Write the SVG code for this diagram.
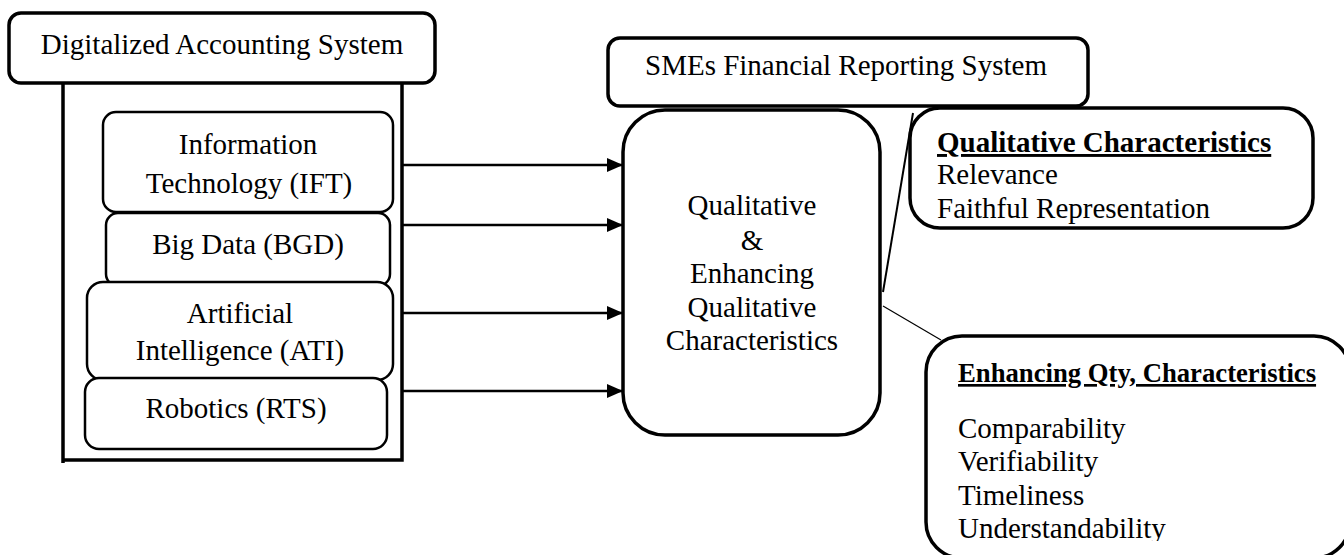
<svg xmlns="http://www.w3.org/2000/svg" width="1344" height="555" viewBox="0 0 1344 555">
<style>
text{font-family:"Liberation Serif","Times New Roman",serif;font-size:29px;fill:#000}
.c{text-anchor:middle}
.b{font-weight:bold;text-decoration:underline}
.box{fill:#fff;stroke:#000;stroke-width:3.5}
.ibox{fill:#fff;stroke:#000;stroke-width:2.5}
.arr{stroke:#000;stroke-width:2.5;fill:none;marker-end:url(#ah)}
</style>
<defs>
<marker id="ah" viewBox="0 0 16 14" refX="16" refY="7" markerWidth="16" markerHeight="14" markerUnits="userSpaceOnUse" orient="auto">
<path d="M0,0 L16,7 L0,14 Z" fill="#000"/>
</marker>
<clipPath id="clipE"><rect x="900" y="330" width="444" height="211"/></clipPath>
</defs>
<rect width="1344" height="555" fill="#fff"/>
<g id="container">
<path d="M63,83 V463 M63,460 H402 V83" fill="none" stroke="#000" stroke-width="3.5"/>
</g>
<g id="das">
<rect class="box" x="9" y="13" width="426" height="70" rx="12"/>
<text class="c" x="222" y="54">Digitalized Accounting System</text>
</g>
<g id="ift">
<rect class="ibox" x="103" y="112" width="290" height="100" rx="13"/>
<text class="c" x="248" y="154">Information</text>
<text class="c" x="249" y="193">Technology (IFT)</text>
</g>
<g id="bgd">
<rect class="ibox" x="106" y="213" width="284" height="73" rx="12"/>
<text class="c" x="248" y="254">Big Data (BGD)</text>
</g>
<g id="ati">
<rect class="ibox" x="87" y="282" width="306" height="98" rx="16"/>
<text class="c" x="240" y="323">Artificial</text>
<text class="c" x="240" y="360">Intelligence (ATI)</text>
</g>
<g id="rts">
<rect class="ibox" x="85" y="378" width="302" height="71" rx="14"/>
<text class="c" x="236" y="418">Robotics (RTS)</text>
</g>
<g id="connectors">
<line class="arr" x1="402" y1="165" x2="623" y2="165"/>
<line class="arr" x1="402" y1="225" x2="623" y2="225"/>
<line class="arr" x1="402" y1="313" x2="623" y2="313"/>
<line class="arr" x1="402" y1="391" x2="623" y2="391"/>
<line x1="883" y1="292" x2="913" y2="113" stroke="#000" stroke-width="2"/>
<line x1="883" y1="306" x2="941" y2="340" stroke="#000" stroke-width="1.2"/>
</g>
<g id="smes">
<rect class="box" x="608" y="38" width="480" height="68" rx="12"/>
<text class="c" x="846" y="75">SMEs Financial Reporting System</text>
</g>
<g id="center">
<rect class="box" x="623" y="110" width="257" height="325" rx="42"/>
<text class="c" x="752" y="215">Qualitative</text>
<text class="c" x="752" y="250">&amp;</text>
<text class="c" x="752" y="283">Enhancing</text>
<text class="c" x="752" y="317">Qualitative</text>
<text class="c" x="752" y="350">Characteristics</text>
</g>
<g id="qualitative">
<rect class="box" x="910" y="108" width="403" height="120" rx="30"/>
<text class="b" x="937" y="152">Qualitative Characteristics</text>
<text x="937" y="184">Relevance</text>
<text x="937" y="218">Faithful Representation</text>
</g>
<g id="enhancing">
<rect class="box" x="926" y="336" width="424" height="222" rx="36"/>
<text class="b" x="958" y="382" style="font-size:26.7px">Enhancing Qty, Characteristics</text>
<g clip-path="url(#clipE)">
<text x="958" y="438">Comparability</text>
<text x="958" y="471">Verifiability</text>
<text x="958" y="505">Timeliness</text>
<text x="958" y="538">Understandability</text>
</g>
</g>
</svg>
